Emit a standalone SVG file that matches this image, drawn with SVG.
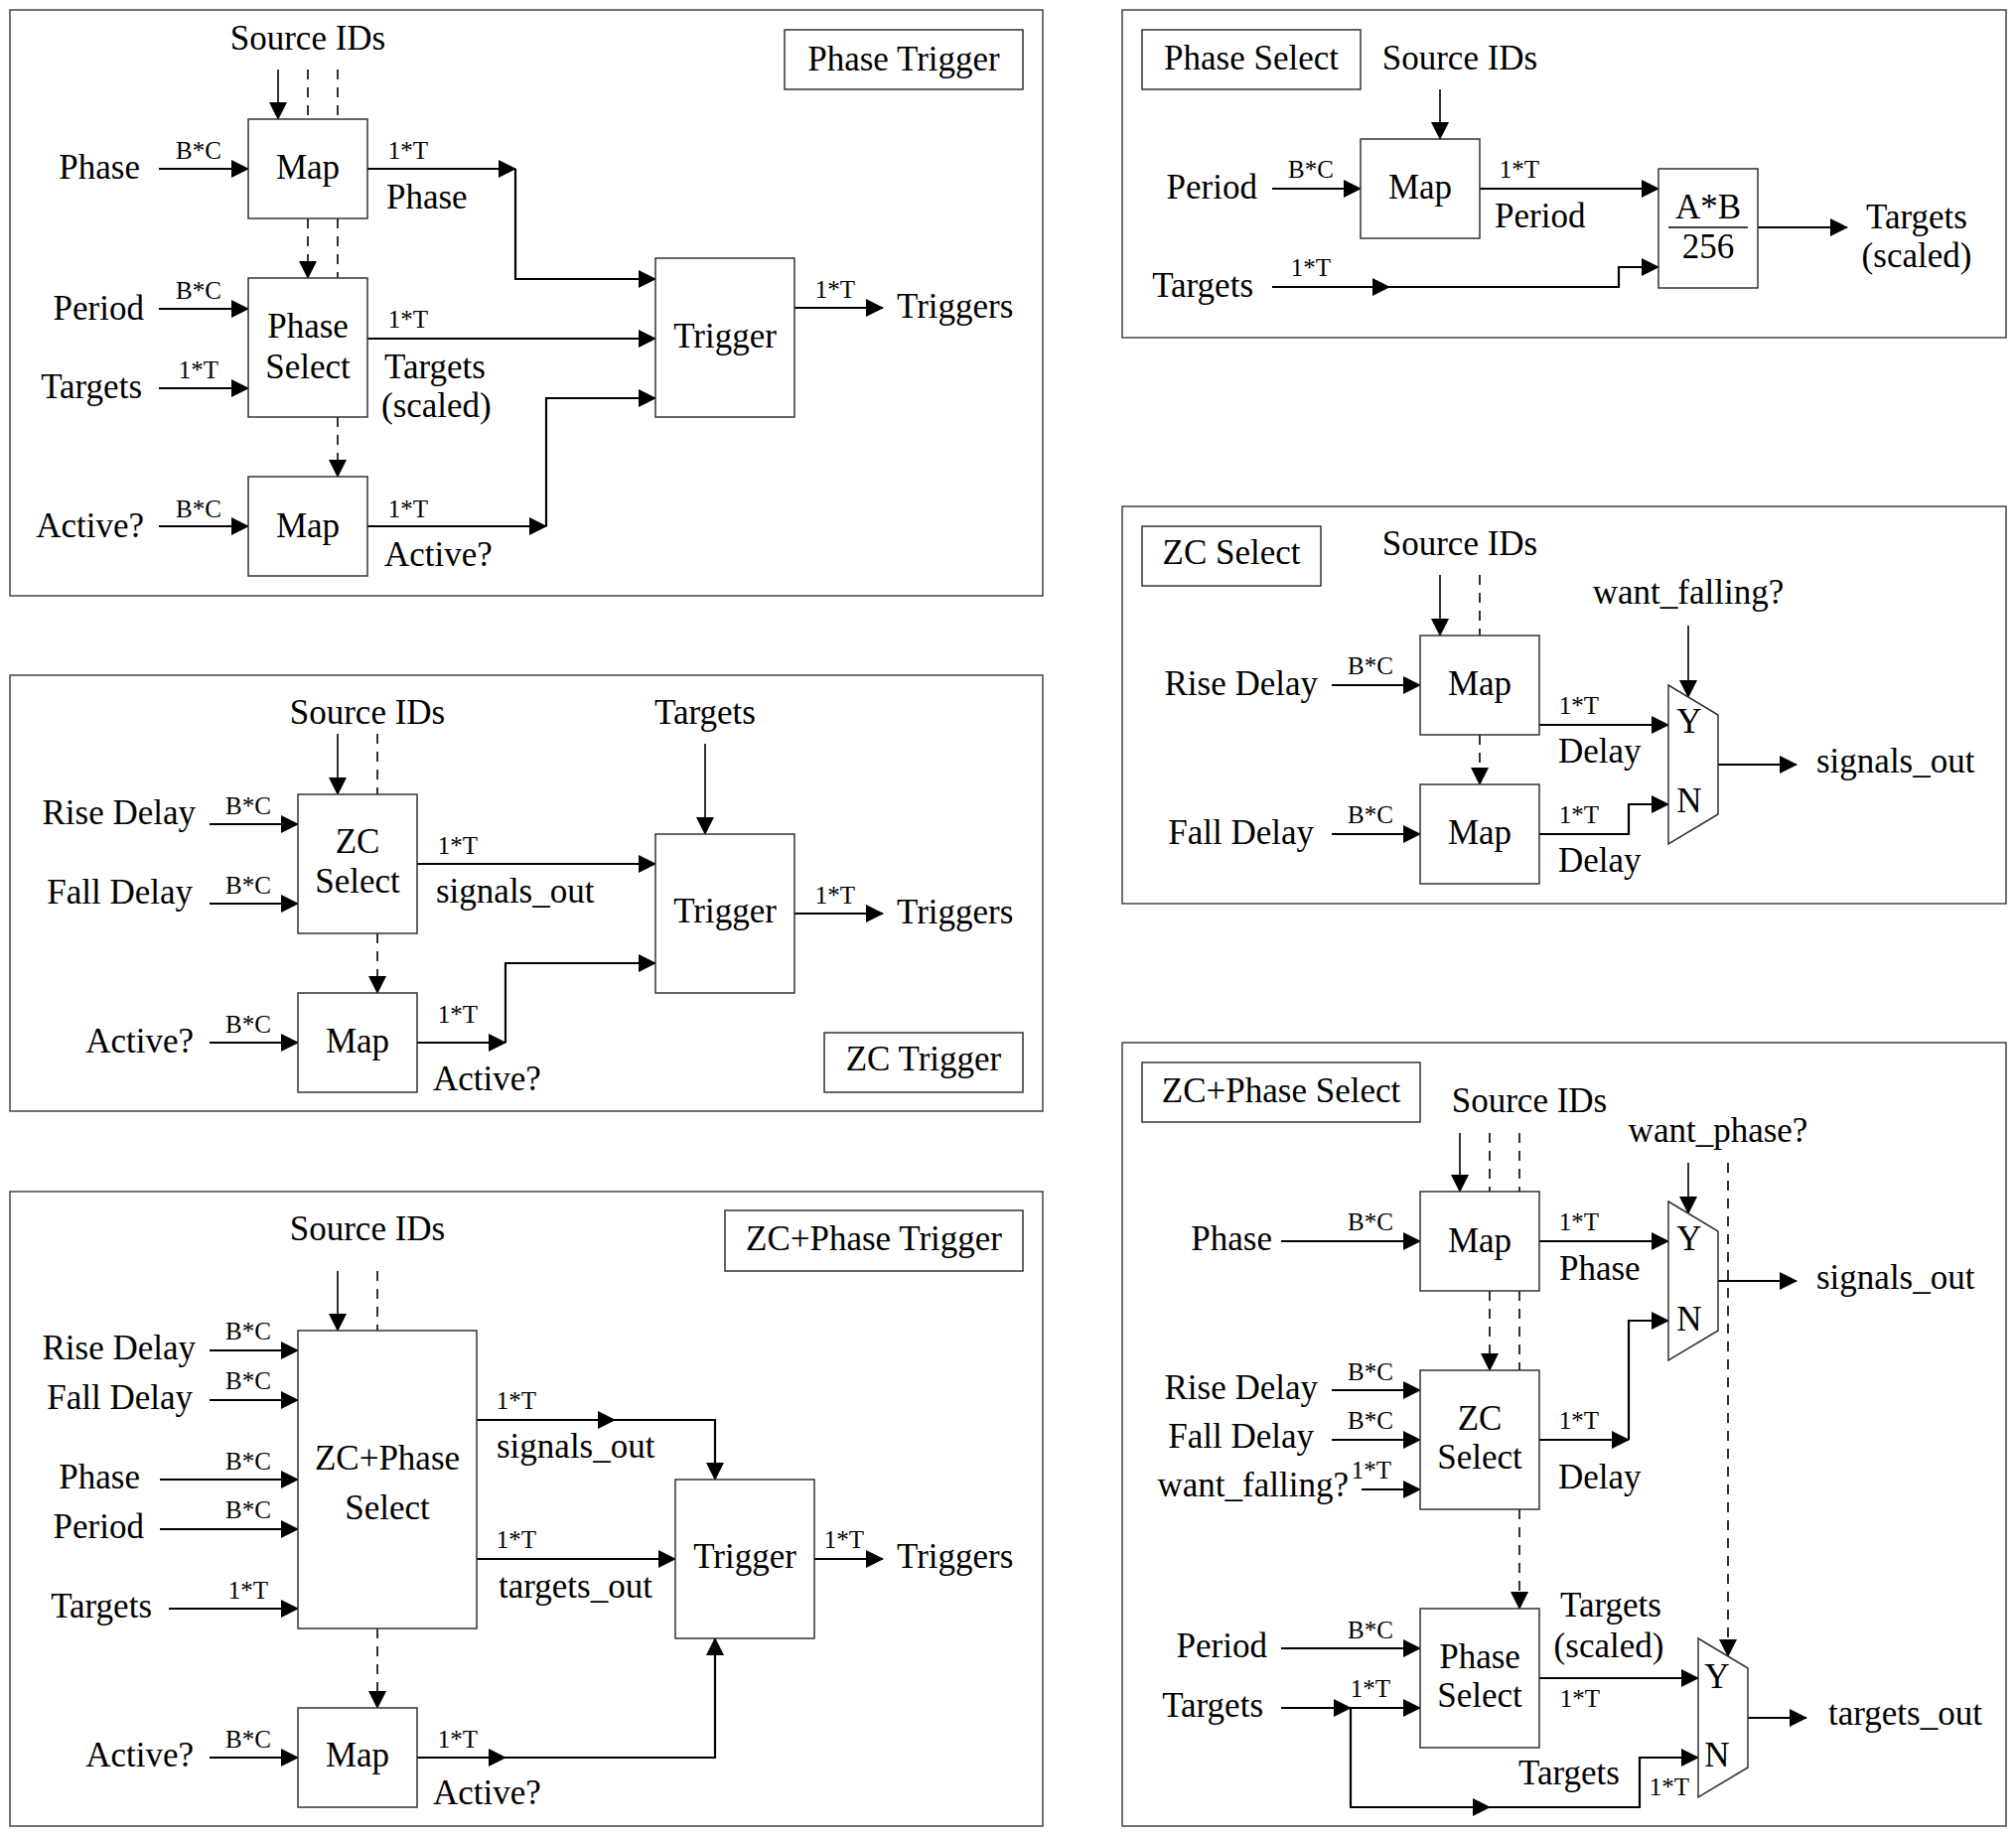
<svg xmlns="http://www.w3.org/2000/svg" width="2030" height="1850" viewBox="0 0 2030 1850">
<style>
.bg{fill:#fff}
.panel{fill:none;stroke:#444;stroke-width:1.5}
.box{fill:#fff;stroke:#333;stroke-width:1.5}
.t{font-family:"Liberation Serif","Times New Roman",serif;font-size:35px;fill:#000}
.s{font-family:"Liberation Serif","Times New Roman",serif;font-size:25px;fill:#000}
.m{text-anchor:middle}
.e{text-anchor:end}
.ln{fill:none;stroke:#000;stroke-width:2.2}
.th{fill:none;stroke:#000;stroke-width:1.6}
.da{fill:none;stroke:#000;stroke-width:1.6;stroke-dasharray:10,8}
</style>
<defs>
<marker id="ah" markerUnits="userSpaceOnUse" markerWidth="18" markerHeight="18" refX="17" refY="9" orient="auto">
<path d="M0,0 L18,9 L0,18 z" fill="#000"/>
</marker>
</defs>
<rect class="bg" x="0" y="0" width="2030" height="1850"/>

<g id="panels">
<rect id="panel-phase-trigger" class="panel" x="10" y="10" width="1040" height="590"/>
<rect id="panel-phase-select" class="panel" x="1130" y="10" width="890" height="330"/>
<rect id="panel-zc-trigger" class="panel" x="10" y="680" width="1040" height="439"/>
<rect id="panel-zc-select" class="panel" x="1130" y="510" width="890" height="400"/>
<rect id="panel-zcphase-trigger" class="panel" x="10" y="1200" width="1040" height="639"/>
<rect id="panel-zcphase-select" class="panel" x="1130" y="1050" width="890" height="789"/>
</g>

<g id="connectors">
<!-- Panel 1 -->
<line class="th" x1="280" y1="70" x2="280" y2="120" marker-end="url(#ah)"/>
<line class="da" x1="310" y1="70" x2="310" y2="120"/>
<line class="da" x1="340" y1="70" x2="340" y2="120"/>
<line class="da" x1="310" y1="220" x2="310" y2="280" marker-end="url(#ah)"/>
<line class="da" x1="340" y1="220" x2="340" y2="280"/>
<line class="da" x1="340" y1="420" x2="340" y2="480" marker-end="url(#ah)"/>
<line class="ln" x1="160" y1="170" x2="250" y2="170" marker-end="url(#ah)"/>
<line class="ln" x1="370" y1="170" x2="519" y2="170" marker-end="url(#ah)"/>
<polyline class="ln" points="519,170 519,281 660,281" marker-end="url(#ah)"/>
<line class="ln" x1="160" y1="311" x2="250" y2="311" marker-end="url(#ah)"/>
<line class="ln" x1="160" y1="391" x2="250" y2="391" marker-end="url(#ah)"/>
<line class="ln" x1="370" y1="341" x2="660" y2="341" marker-end="url(#ah)"/>
<line class="ln" x1="160" y1="530" x2="250" y2="530" marker-end="url(#ah)"/>
<line class="ln" x1="370" y1="530" x2="550" y2="530" marker-end="url(#ah)"/>
<polyline class="ln" points="550,530 550,401 660,401" marker-end="url(#ah)"/>
<line class="ln" x1="800" y1="310" x2="889" y2="310" marker-end="url(#ah)"/>

<!-- Panel 2 -->
<line class="th" x1="1450" y1="90" x2="1450" y2="140" marker-end="url(#ah)"/>
<line class="ln" x1="1281" y1="190" x2="1370" y2="190" marker-end="url(#ah)"/>
<line class="ln" x1="1490" y1="190" x2="1670" y2="190" marker-end="url(#ah)"/>
<line class="ln" x1="1281" y1="289" x2="1399" y2="289" marker-end="url(#ah)"/>
<polyline class="ln" points="1399,289 1630,289 1630,269 1670,269" marker-end="url(#ah)"/>
<line class="ln" x1="1770" y1="229" x2="1860" y2="229" marker-end="url(#ah)"/>

<!-- Panel 3 -->
<line class="th" x1="340" y1="739" x2="340" y2="800" marker-end="url(#ah)"/>
<line class="da" x1="380" y1="739" x2="380" y2="800"/>
<line class="da" x1="380" y1="940" x2="380" y2="1000" marker-end="url(#ah)"/>
<line class="th" x1="710" y1="749" x2="710" y2="840" marker-end="url(#ah)"/>
<line class="ln" x1="211" y1="830" x2="300" y2="830" marker-end="url(#ah)"/>
<line class="ln" x1="211" y1="910" x2="300" y2="910" marker-end="url(#ah)"/>
<line class="ln" x1="420" y1="870" x2="660" y2="870" marker-end="url(#ah)"/>
<line class="ln" x1="211" y1="1050" x2="300" y2="1050" marker-end="url(#ah)"/>
<line class="ln" x1="420" y1="1050" x2="509" y2="1050" marker-end="url(#ah)"/>
<polyline class="ln" points="509,1050 509,970 660,970" marker-end="url(#ah)"/>
<line class="ln" x1="800" y1="920" x2="889" y2="920" marker-end="url(#ah)"/>

<!-- Panel 4 -->
<line class="th" x1="1450" y1="579" x2="1450" y2="640" marker-end="url(#ah)"/>
<line class="da" x1="1490" y1="579" x2="1490" y2="640"/>
<line class="da" x1="1490" y1="740" x2="1490" y2="790" marker-end="url(#ah)"/>
<line class="th" x1="1700" y1="630" x2="1700" y2="702" marker-end="url(#ah)"/>
<line class="ln" x1="1341" y1="690" x2="1430" y2="690" marker-end="url(#ah)"/>
<line class="ln" x1="1550" y1="730" x2="1680" y2="730" marker-end="url(#ah)"/>
<line class="ln" x1="1341" y1="840" x2="1430" y2="840" marker-end="url(#ah)"/>
<polyline class="ln" points="1550,840 1640,840 1640,810 1680,810" marker-end="url(#ah)"/>
<line class="ln" x1="1730" y1="770" x2="1809" y2="770" marker-end="url(#ah)"/>

<!-- Panel 5 -->
<line class="th" x1="340" y1="1280" x2="340" y2="1340" marker-end="url(#ah)"/>
<line class="da" x1="380" y1="1280" x2="380" y2="1340"/>
<line class="da" x1="380" y1="1640" x2="380" y2="1720" marker-end="url(#ah)"/>
<line class="ln" x1="211" y1="1360" x2="300" y2="1360" marker-end="url(#ah)"/>
<line class="ln" x1="211" y1="1410" x2="300" y2="1410" marker-end="url(#ah)"/>
<line class="ln" x1="161" y1="1490" x2="300" y2="1490" marker-end="url(#ah)"/>
<line class="ln" x1="161" y1="1540" x2="300" y2="1540" marker-end="url(#ah)"/>
<line class="ln" x1="170" y1="1620" x2="300" y2="1620" marker-end="url(#ah)"/>
<line class="ln" x1="480" y1="1430" x2="619" y2="1430" marker-end="url(#ah)"/>
<polyline class="ln" points="619,1430 720,1430 720,1490" marker-end="url(#ah)"/>
<line class="ln" x1="480" y1="1570" x2="680" y2="1570" marker-end="url(#ah)"/>
<line class="ln" x1="820" y1="1570" x2="889" y2="1570" marker-end="url(#ah)"/>
<line class="ln" x1="211" y1="1770" x2="300" y2="1770" marker-end="url(#ah)"/>
<line class="ln" x1="420" y1="1770" x2="509" y2="1770" marker-end="url(#ah)"/>
<polyline class="ln" points="509,1770 720,1770 720,1650" marker-end="url(#ah)"/>

<!-- Panel 6 -->
<line class="th" x1="1470" y1="1141" x2="1470" y2="1200" marker-end="url(#ah)"/>
<line class="da" x1="1500" y1="1141" x2="1500" y2="1200"/>
<line class="da" x1="1530" y1="1141" x2="1530" y2="1200"/>
<line class="da" x1="1500" y1="1300" x2="1500" y2="1380" marker-end="url(#ah)"/>
<line class="da" x1="1530" y1="1300" x2="1530" y2="1380"/>
<line class="da" x1="1530" y1="1520" x2="1530" y2="1620" marker-end="url(#ah)"/>
<line class="th" x1="1700" y1="1171" x2="1700" y2="1222" marker-end="url(#ah)"/>
<line class="da" x1="1740" y1="1171" x2="1740" y2="1668" marker-end="url(#ah)"/>
<line class="ln" x1="1290" y1="1250" x2="1430" y2="1250" marker-end="url(#ah)"/>
<line class="ln" x1="1550" y1="1250" x2="1680" y2="1250" marker-end="url(#ah)"/>
<line class="ln" x1="1730" y1="1290" x2="1809" y2="1290" marker-end="url(#ah)"/>
<line class="ln" x1="1341" y1="1400" x2="1430" y2="1400" marker-end="url(#ah)"/>
<line class="ln" x1="1341" y1="1450" x2="1430" y2="1450" marker-end="url(#ah)"/>
<line class="ln" x1="1371" y1="1500" x2="1430" y2="1500" marker-end="url(#ah)"/>
<line class="ln" x1="1550" y1="1450" x2="1640" y2="1450" marker-end="url(#ah)"/>
<polyline class="ln" points="1640,1450 1640,1330 1680,1330" marker-end="url(#ah)"/>
<line class="ln" x1="1290" y1="1660" x2="1430" y2="1660" marker-end="url(#ah)"/>
<line class="ln" x1="1290" y1="1720" x2="1360" y2="1720" marker-end="url(#ah)"/>
<line class="ln" x1="1360" y1="1720" x2="1430" y2="1720" marker-end="url(#ah)"/>
<polyline class="ln" points="1360,1720 1360,1820 1500,1820" marker-end="url(#ah)"/>
<polyline class="ln" points="1500,1820 1651,1820 1651,1770 1710,1770" marker-end="url(#ah)"/>
<line class="ln" x1="1550" y1="1690" x2="1710" y2="1690" marker-end="url(#ah)"/>
<line class="ln" x1="1760" y1="1730" x2="1819" y2="1730" marker-end="url(#ah)"/>
</g>

<!-- ===== Panel 1: Phase Trigger ===== -->
<g id="p1-title"><rect class="box" x="790" y="30" width="240" height="60"/><text class="t m" x="910" y="71">Phase Trigger</text></g>
<g id="p1-map1"><rect class="box" x="250" y="120" width="120" height="100"/><text class="t m" x="310" y="180">Map</text></g>
<g id="p1-phaseselect"><rect class="box" x="250" y="280" width="120" height="140"/><text class="t m" x="310" y="340">Phase</text><text class="t m" x="310" y="381">Select</text></g>
<g id="p1-map2"><rect class="box" x="250" y="480" width="120" height="100"/><text class="t m" x="310" y="541">Map</text></g>
<g id="p1-trigger"><rect class="box" x="660" y="260" width="140" height="160"/><text class="t m" x="730" y="350">Trigger</text></g>
<g id="p1-labels">
<text class="t m" x="310" y="50">Source IDs</text>
<text class="t e" x="141" y="180">Phase</text><text class="s m" x="200" y="160">B*C</text>
<text class="t e" x="145" y="322">Period</text><text class="s m" x="200" y="301">B*C</text>
<text class="t e" x="143" y="401">Targets</text><text class="s m" x="200" y="381">1*T</text>
<text class="t e" x="145" y="541">Active?</text><text class="s m" x="200" y="521">B*C</text>
<text class="s m" x="411" y="160">1*T</text><text class="t" x="389" y="210">Phase</text>
<text class="s m" x="411" y="330">1*T</text><text class="t" x="387" y="381">Targets</text><text class="t" x="384" y="420">(scaled)</text>
<text class="s m" x="411" y="521">1*T</text><text class="t" x="387" y="570">Active?</text>
<text class="s m" x="841" y="300">1*T</text><text class="t" x="903" y="320">Triggers</text>
</g>

<!-- ===== Panel 2: Phase Select ===== -->
<g id="p2-title"><rect class="box" x="1150" y="30" width="220" height="60"/><text class="t m" x="1260" y="70">Phase Select</text></g>
<g id="p2-map"><rect class="box" x="1370" y="140" width="120" height="100"/><text class="t m" x="1430" y="200">Map</text></g>
<g id="p2-scale"><rect class="box" x="1670" y="170" width="100" height="120"/><text class="t m" x="1720" y="220">A*B</text><line x1="1680" y1="229" x2="1760" y2="229" stroke="#000" stroke-width="1.5"/><text class="t m" x="1720" y="260">256</text></g>
<g id="p2-labels">
<text class="t m" x="1470" y="70">Source IDs</text>
<text class="t e" x="1266" y="200">Period</text><text class="s m" x="1320" y="179">B*C</text>
<text class="s m" x="1530" y="179">1*T</text><text class="t" x="1505" y="229">Period</text>
<text class="t e" x="1262" y="299">Targets</text><text class="s m" x="1320" y="278">1*T</text>
<text class="t m" x="1930" y="230">Targets</text><text class="t m" x="1930" y="269">(scaled)</text>
</g>

<!-- ===== Panel 3: ZC Trigger ===== -->
<g id="p3-title"><rect class="box" x="830" y="1040" width="200" height="60"/><text class="t m" x="930" y="1078">ZC Trigger</text></g>
<g id="p3-zcselect"><rect class="box" x="300" y="800" width="120" height="140"/><text class="t m" x="360" y="859">ZC</text><text class="t m" x="360" y="899">Select</text></g>
<g id="p3-map"><rect class="box" x="300" y="1000" width="120" height="100"/><text class="t m" x="360" y="1060">Map</text></g>
<g id="p3-trigger"><rect class="box" x="660" y="840" width="140" height="160"/><text class="t m" x="730" y="929">Trigger</text></g>
<g id="p3-labels">
<text class="t m" x="370" y="729">Source IDs</text>
<text class="t m" x="710" y="729">Targets</text>
<text class="t e" x="197" y="830">Rise Delay</text><text class="s m" x="250" y="820">B*C</text>
<text class="t e" x="194" y="910">Fall Delay</text><text class="s m" x="250" y="900">B*C</text>
<text class="t e" x="195" y="1060">Active?</text><text class="s m" x="250" y="1040">B*C</text>
<text class="s m" x="461" y="860">1*T</text><text class="t" x="439" y="909">signals_out</text>
<text class="s m" x="461" y="1030">1*T</text><text class="t" x="436" y="1098">Active?</text>
<text class="s m" x="841" y="910">1*T</text><text class="t" x="903" y="930">Triggers</text>
</g>

<!-- ===== Panel 4: ZC Select ===== -->
<g id="p4-title"><rect class="box" x="1150" y="530" width="180" height="60"/><text class="t m" x="1240" y="568">ZC Select</text></g>
<g id="p4-map1"><rect class="box" x="1430" y="640" width="120" height="100"/><text class="t m" x="1490" y="700">Map</text></g>
<g id="p4-map2"><rect class="box" x="1430" y="790" width="120" height="100"/><text class="t m" x="1490" y="850">Map</text></g>
<g id="p4-mux"><polygon class="box" points="1680,690 1730,720 1730,820 1680,850"/><text class="t m" x="1701" y="738">Y</text><text class="t m" x="1701" y="818">N</text></g>
<g id="p4-labels">
<text class="t m" x="1470" y="559">Source IDs</text>
<text class="t m" x="1700" y="608">want_falling?</text>
<text class="t e" x="1327" y="700">Rise Delay</text><text class="s m" x="1380" y="679">B*C</text>
<text class="t e" x="1323" y="850">Fall Delay</text><text class="s m" x="1380" y="829">B*C</text>
<text class="s m" x="1590" y="719">1*T</text><text class="t" x="1569" y="768">Delay</text>
<text class="s m" x="1590" y="829">1*T</text><text class="t" x="1569" y="878">Delay</text>
<text class="t" x="1829" y="778">signals_out</text>
</g>

<!-- ===== Panel 5: ZC+Phase Trigger ===== -->
<g id="p5-title"><rect class="box" x="730" y="1219" width="300" height="61"/><text class="t m" x="880" y="1259">ZC+Phase Trigger</text></g>
<g id="p5-zcphase"><rect class="box" x="300" y="1340" width="180" height="300"/><text class="t m" x="390" y="1480">ZC+Phase</text><text class="t m" x="390" y="1530">Select</text></g>
<g id="p5-map"><rect class="box" x="300" y="1720" width="120" height="100"/><text class="t m" x="360" y="1779">Map</text></g>
<g id="p5-trigger"><rect class="box" x="680" y="1490" width="140" height="160"/><text class="t m" x="750" y="1579">Trigger</text></g>
<g id="p5-labels">
<text class="t m" x="370" y="1249">Source IDs</text>
<text class="t e" x="197" y="1369">Rise Delay</text><text class="s m" x="250" y="1349">B*C</text>
<text class="t e" x="194" y="1419">Fall Delay</text><text class="s m" x="250" y="1399">B*C</text>
<text class="t e" x="141" y="1499">Phase</text><text class="s m" x="250" y="1480">B*C</text>
<text class="t e" x="145" y="1549">Period</text><text class="s m" x="250" y="1529">B*C</text>
<text class="t e" x="153" y="1629">Targets</text><text class="s m" x="250" y="1610">1*T</text>
<text class="t e" x="195" y="1779">Active?</text><text class="s m" x="250" y="1760">B*C</text>
<text class="s m" x="520" y="1419">1*T</text><text class="t" x="500" y="1468">signals_out</text>
<text class="s m" x="520" y="1559">1*T</text><text class="t" x="502" y="1609">targets_out</text>
<text class="s m" x="461" y="1760">1*T</text><text class="t" x="436" y="1817">Active?</text>
<text class="s m" x="850" y="1559">1*T</text><text class="t" x="903" y="1579">Triggers</text>
</g>

<!-- ===== Panel 6: ZC+Phase Select ===== -->
<g id="p6-title"><rect class="box" x="1150" y="1070" width="280" height="60"/><text class="t m" x="1290" y="1110">ZC+Phase Select</text></g>
<g id="p6-map"><rect class="box" x="1430" y="1200" width="120" height="100"/><text class="t m" x="1490" y="1261">Map</text></g>
<g id="p6-zcselect"><rect class="box" x="1430" y="1380" width="120" height="140"/><text class="t m" x="1490" y="1440">ZC</text><text class="t m" x="1490" y="1479">Select</text></g>
<g id="p6-phaseselect"><rect class="box" x="1430" y="1620" width="120" height="140"/><text class="t m" x="1490" y="1680">Phase</text><text class="t m" x="1490" y="1719">Select</text></g>
<g id="p6-mux1"><polygon class="box" points="1680,1210 1730,1240 1730,1340 1680,1370"/><text class="t m" x="1701" y="1259">Y</text><text class="t m" x="1701" y="1340">N</text></g>
<g id="p6-mux2"><polygon class="box" points="1710,1650 1760,1680 1760,1780 1710,1810"/><text class="t m" x="1729" y="1700">Y</text><text class="t m" x="1729" y="1779">N</text></g>
<g id="p6-labels">
<text class="t m" x="1540" y="1120">Source IDs</text>
<text class="t m" x="1730" y="1150">want_phase?</text>
<text class="t e" x="1281" y="1259">Phase</text><text class="s m" x="1380" y="1239">B*C</text>
<text class="s m" x="1590" y="1239">1*T</text><text class="t" x="1570" y="1289">Phase</text>
<text class="t" x="1829" y="1298">signals_out</text>
<text class="t e" x="1327" y="1409">Rise Delay</text><text class="s m" x="1380" y="1390">B*C</text>
<text class="t e" x="1323" y="1458">Fall Delay</text><text class="s m" x="1380" y="1439">B*C</text>
<text class="t e" x="1358" y="1507">want_falling?</text><text class="s m" x="1381" y="1489">1*T</text>
<text class="s m" x="1590" y="1439">1*T</text><text class="t" x="1569" y="1499">Delay</text>
<text class="t e" x="1276" y="1669">Period</text><text class="s m" x="1380" y="1650">B*C</text>
<text class="t e" x="1272" y="1729">Targets</text><text class="s m" x="1380" y="1709">1*T</text>
<text class="t m" x="1622" y="1628">Targets</text><text class="t m" x="1620" y="1669">(scaled)</text>
<text class="s m" x="1591" y="1719">1*T</text>
<text class="t m" x="1580" y="1797">Targets</text><text class="s m" x="1681" y="1808">1*T</text>
<text class="t" x="1841" y="1737">targets_out</text>
</g>
</svg>
